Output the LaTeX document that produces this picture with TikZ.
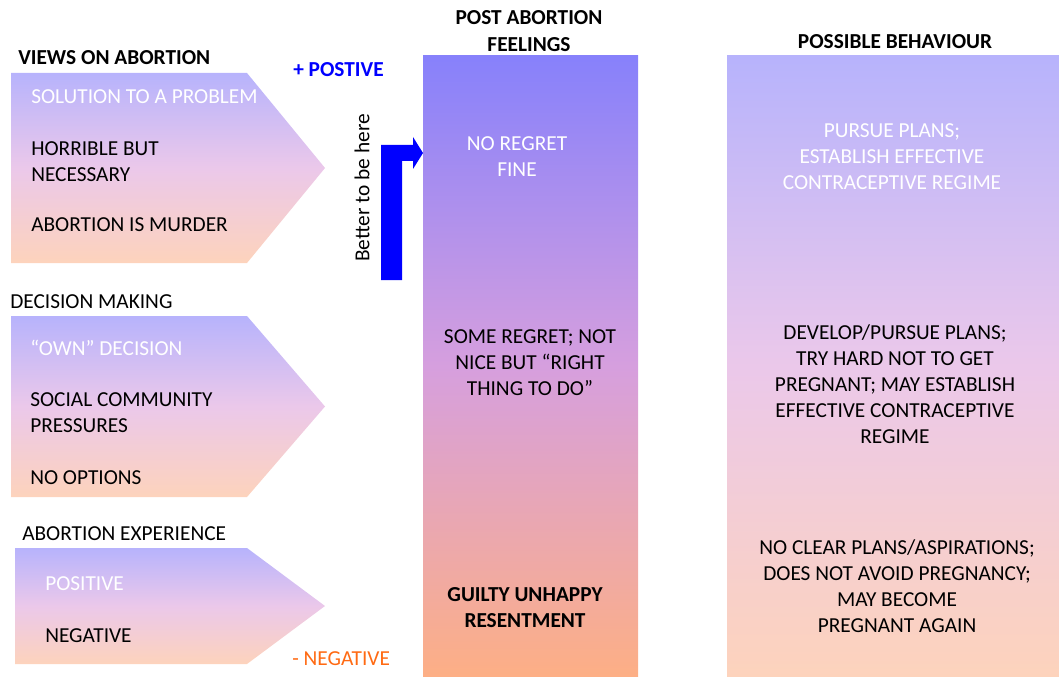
\documentclass[tikz,border=0pt]{standalone}
\usepackage{fontspec}
\setmainfont{Carlito}
\usetikzlibrary{positioning}
\definecolor{lav}{HTML}{B7B3FC}
\definecolor{pinklav}{HTML}{EBC8EA}
\definecolor{peach}{HTML}{FDD3BC}
\definecolor{feeltop}{HTML}{8781FB}
\definecolor{feelmid}{HTML}{D69FDE}
\definecolor{feelbot}{HTML}{FDAF85}
\definecolor{negorange}{HTML}{FF6A13}
\tikzset{
txt/.style={font=\fontsize{16}{19.5}\selectfont, inner sep=0pt, align=left, anchor=west}, % text inside the arrows
ctxt/.style={font=\fontsize{16}{19.5}\selectfont, inner sep=0pt, align=center}, % centred text in the columns
hdr/.style={font=\fontsize{16}{20}\selectfont\bfseries, inner sep=0pt, align=center}, % bold headings
sub/.style={font=\fontsize{16}{19.5}\selectfont, inner sep=0pt, anchor=west}, % plain headings
band/.style={top color=lav, bottom color=peach, middle color=pinklav}, % light gradient
}

\begin{document}
\begin{tikzpicture}[x=0.75pt, y=-0.75pt]
    \useasboundingbox (0,0) rectangle (1059,677);

    % columns
    \shade[top color=feeltop, bottom color=feelbot, middle color=feelmid] (423,56) rectangle (638,677);
    \shade[band] (727,56) rectangle (1059,677);

    % arrow shapes on the left
    \foreach \t/\b/\l in {73/263/11, 316/497/11, 548/664/15}
        \shade[band] (\l,\t) -- (247,\t) -- (325,{(\t+\b)/2}) -- (247,\b) -- (\l,\b) -- cycle;

    \node[hdr, anchor=west] (VIEWS) at (18,58) {VIEWS ON ABORTION};
    \node[txt, white] (SOLUTION) at (31,97) {SOLUTION TO A PROBLEM};
    \node[txt] (HORRIBLE) at (31,162) {HORRIBLE BUT\\NECESSARY};
    \node[txt] (MURDER) at (31,225) {ABORTION IS MURDER};

    \node[sub] (DECISION) at (10,302) {DECISION MAKING};
    \node[txt, white] (OWN) at (30,348) {“OWN” DECISION};
    \node[txt] (SOCIAL) at (30,413) {SOCIAL COMMUNITY\\PRESSURES};
    \node[txt] (NOOPTIONS) at (30,478) {NO OPTIONS};

    \node[sub] (EXPERIENCE) at (22,534) {ABORTION EXPERIENCE};
    \node[txt, white] (POSITIVE) at (45,584) {POSITIVE};
    \node[txt] (NEGATIVE) at (45,636) {NEGATIVE};

    % scale between the arrows and the first column
    \node[hdr, anchor=west, blue] (PLUS) at (293,70) {+ POSTIVE};
    \node[sub, negorange] (MINUS) at (292,659) {- NEGATIVE};
    \node[txt, rotate=90, anchor=center] (BETTER) at (362,188) {Better to be here};
    \fill[blue] (381,280) -- (381,145) -- (413,145) -- (413,137) -- (423,153)
        -- (413,169) -- (413,161) -- (402,161) -- (402,280) -- cycle;

    % post abortion feelings
    \node[hdr] (FEELINGS) at (529,31) {POST ABORTION\\FEELINGS};
    \node[ctxt, white] (NOREGRET) at (517,157) {NO REGRET\\FINE};
    \node[ctxt] (SOMEREGRET) at (530,363) {SOME REGRET; NOT\\NICE BUT “RIGHT\\THING TO DO”};
    \node[ctxt, font=\fontsize{16}{19.5}\selectfont\bfseries] (GUILTY) at (525,608) {GUILTY UNHAPPY\\RESENTMENT};

    % possible behaviour
    \node[hdr] (BEHAVIOUR) at (895,42) {POSSIBLE BEHAVIOUR};
    \node[ctxt, white] (PURSUE) at (892,157) {PURSUE PLANS;\\ESTABLISH EFFECTIVE\\CONTRACEPTIVE REGIME};
    \node[ctxt] (DEVELOP) at (895,384) {DEVELOP/PURSUE PLANS;\\TRY HARD NOT TO GET\\PREGNANT; MAY ESTABLISH\\EFFECTIVE CONTRACEPTIVE\\REGIME};
    \node[ctxt] (NOCLEAR) at (897,586) {NO CLEAR PLANS/ASPIRATIONS;\\DOES NOT AVOID PREGNANCY;\\MAY BECOME\\PREGNANT AGAIN};
\end{tikzpicture}
\end{document}
